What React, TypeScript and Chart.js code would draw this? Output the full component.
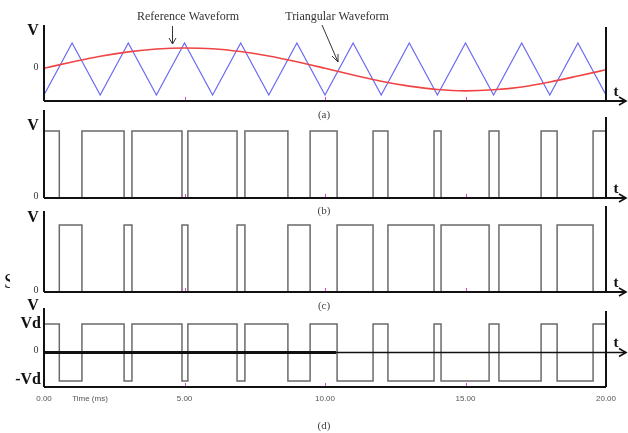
import React, { useEffect, useRef } from 'react';
import { Chart, registerables } from 'chart.js';

Chart.register(...registerables);

const W = 628;
const H = 433;
const SERIF = "'Liberation Serif', 'Times New Roman', serif";
const SANS = "'Liberation Sans', Arial, sans-serif";

// time axis (ms)
const xTickValues = [0, 5, 10, 15, 20];
const xTickLabels = ['0.00', '5.00', '10.00', '15.00', '20.00'];

// (a) triangular carrier: vertices (ms, per-unit)
const carrierTimes = [0, 1, 2, 3, 4, 5, 6, 7, 8, 9, 10, 11, 12, 13, 14, 15, 16, 17, 18, 19, 20];
const carrierValues = [-1, 1, -1, 1, -1, 1, -1, 1, -1, 1, -1, 1, -1, 1, -1, 1, -1, 1, -1, 1, -1];

// (a) reference sine, read every 1 ms
const referenceTimes = [0, 1, 2, 3, 4, 5, 6, 7, 8, 9, 10, 11, 12, 13, 14, 15, 16, 17, 18, 19, 20];
const referenceValues = [0.03, 0.27, 0.49, 0.66, 0.77, 0.81, 0.78, 0.67, 0.5, 0.28, 0.03, -0.23, -0.47, -0.66, -0.79, -0.84, -0.8, -0.69, -0.5, -0.27, -0.03];

// switching instants (ms) and the level held from each instant
const switchTimes = [0, 0.545, 1.35, 2.85, 3.13, 4.91, 5.12, 6.87, 7.15, 8.68, 9.47, 10.43, 11.71, 12.24, 13.88, 14.13, 15.84, 16.19, 17.69, 18.26, 19.54];
const legALevels = [1, 0, 1, 0, 1, 0, 1, 0, 1, 0, 1, 0, 1, 0, 1, 0, 1, 0, 1, 0, 1];
const legBLevels = [0, 1, 0, 1, 0, 1, 0, 1, 0, 1, 0, 1, 0, 1, 0, 1, 0, 1, 0, 1, 0];
const outputLevels = [1, -1, 1, -1, 1, -1, 1, -1, 1, -1, 1, -1, 1, -1, 1, -1, 1, -1, 1, -1, 1];
const endTime = 20;

const zip = (xs: number[], ys: number[]) => xs.map((x, i) => ({ x, y: ys[i] }));
const steps = (levels: number[]) =>
  zip(switchTimes, levels).concat([{ x: endTime, y: levels[levels.length - 1] }]);

type PanelSpec = {
  name: string;
  padTop: number;
  padBottom: number;
  yMin: number;
  yMax: number;
  rightOffset: number;
  vLabelY: number;
  panelLabel: string;
  panelLabelY: number;
  datasets: any[];
  bipolar?: boolean;
  showX?: boolean;
  extra?: (ctx: CanvasRenderingContext2D, chart: any) => void;
};

function arrowHead(ctx: CanvasRenderingContext2D, x: number, y: number) {
  ctx.beginPath();
  ctx.moveTo(x - 7, y - 4);
  ctx.lineTo(x, y);
  ctx.lineTo(x - 7, y + 4);
  ctx.stroke();
}

function seg(ctx: CanvasRenderingContext2D, x1: number, y1: number, x2: number, y2: number) {
  ctx.beginPath();
  ctx.moveTo(x1, y1);
  ctx.lineTo(x2, y2);
  ctx.stroke();
}

function makePlugin(spec: PanelSpec) {
  return {
    id: 'frame_' + spec.name,
    afterDatasetsDraw(chart: any) {
      const { ctx, chartArea: a, scales } = chart;
      const xs = scales.x;
      const ys = scales.y;
      ctx.save();
      ctx.strokeStyle = '#111';
      ctx.fillStyle = '#111';
      ctx.lineWidth = 2;
      // left axis and right edge
      seg(ctx, a.left, a.top, a.left, a.bottom);
      seg(ctx, a.right, a.top + spec.rightOffset, a.right, a.bottom);
      const tipX = 626;
      let baseY = a.bottom;
      if (spec.bipolar) {
        seg(ctx, a.left, a.bottom, a.right, a.bottom);
        baseY = ys.getPixelForValue(0);
        ctx.lineWidth = 3;
        seg(ctx, a.left, baseY, xs.getPixelForValue(10.4), baseY);
        ctx.lineWidth = 1.6;
        seg(ctx, xs.getPixelForValue(10.4), baseY, tipX, baseY);
        arrowHead(ctx, tipX, baseY);
      } else {
        seg(ctx, a.left, baseY, tipX, baseY);
        ctx.lineWidth = 1.6;
        arrowHead(ctx, tipX, baseY);
      }
      // small magenta ticks
      ctx.strokeStyle = '#e040e0';
      ctx.lineWidth = 1;
      [5, 10, 15].forEach((v) => {
        const px = Math.round(xs.getPixelForValue(v)) + 0.5;
        seg(ctx, px, a.bottom - 4, px, a.bottom - 1);
      });
      // labels
      ctx.fillStyle = '#111';
      ctx.textBaseline = 'middle';
      ctx.textAlign = 'center';
      ctx.font = `bold 16px ${SERIF}`;
      ctx.fillText('V', 33, spec.vLabelY);
      ctx.font = `bold 15px ${SERIF}`;
      ctx.fillText('t', 616, baseY - 9);
      ctx.font = `10px ${SERIF}`;
      ctx.fillStyle = '#333';
      ctx.fillText('0', 36, ys.getPixelForValue(0) - 2);
      if (spec.bipolar) {
        ctx.fillStyle = '#111';
        ctx.font = `bold 16px ${SERIF}`;
        ctx.textAlign = 'right';
        ctx.fillText('Vd', 41, ys.getPixelForValue(1));
        ctx.fillText('-Vd', 41, ys.getPixelForValue(-1) - 1);
      }
      ctx.textAlign = 'center';
      ctx.fillStyle = '#444';
      ctx.font = `11px ${SERIF}`;
      ctx.fillText(spec.panelLabel, 324, spec.panelLabelY);
      if (spec.extra) spec.extra(ctx, chart);
      ctx.restore();
    },
  };
}

function buildConfig(spec: PanelSpec): any {
  const xScale: any = spec.showX
    ? {
        type: 'linear',
        min: 0,
        max: 20,
        display: true,
        afterBuildTicks: (s: any) => {
          s.ticks = xTickValues.map((v) => ({ value: v }));
        },
        afterFit: (s: any) => {
          s.height = 14;
        },
        grid: { display: false, drawTicks: false },
        border: { display: false },
        ticks: {
          autoSkip: false,
          maxRotation: 0,
          padding: 7,
          color: '#555',
          font: { size: 8, family: SANS },
          callback: (v: number) => {
            const i = xTickValues.indexOf(v);
            return i >= 0 ? xTickLabels[i] : '';
          },
        },
      }
    : { type: 'linear', min: 0, max: 20, display: false };
  return {
    type: 'line',
    data: { datasets: spec.datasets },
    options: {
      responsive: false,
      animation: false,
      devicePixelRatio: 1,
      events: [],
      layout: { padding: { left: 44, right: 22, top: spec.padTop, bottom: spec.padBottom } },
      plugins: { legend: { display: false }, tooltip: { enabled: false } },
      elements: { point: { radius: 0 } },
      scales: {
        x: xScale,
        y: { type: 'linear', min: spec.yMin, max: spec.yMax, display: false },
      },
    },
    plugins: [makePlugin(spec)],
  };
}

const pulseStyle = { borderColor: '#6a6a6a', borderWidth: 1.5, stepped: 'before', fill: false, pointRadius: 0 };

const panels: PanelSpec[] = [
  {
    name: 'a',
    padTop: 25,
    padBottom: H - 101,
    yMin: -1.231,
    yMax: 1.692,
    rightOffset: 2,
    vLabelY: 31,
    panelLabel: '(a)',
    panelLabelY: 115,
    datasets: [
      {
        label: 'Reference Waveform',
        data: zip(referenceTimes, referenceValues),
        borderColor: '#f04444',
        borderWidth: 1.6,
        tension: 0.4,
        cubicInterpolationMode: 'monotone',
        pointRadius: 0,
      },
      {
        label: 'Triangular Waveform',
        data: zip(carrierTimes, carrierValues),
        borderColor: '#6a6af2',
        borderWidth: 1.2,
        tension: 0,
        pointRadius: 0,
      },
    ],
    extra: (ctx) => {
      ctx.fillStyle = '#333';
      ctx.strokeStyle = '#333';
      ctx.font = `12px ${SERIF}`;
      ctx.textAlign = 'center';
      ctx.fillText('Reference Waveform', 188, 17);
      ctx.fillText('Triangular Waveform', 337, 17);
      ctx.lineWidth = 1;
      seg(ctx, 172.5, 26, 172.5, 44);
      seg(ctx, 169, 38, 172.5, 44);
      seg(ctx, 176, 38, 172.5, 44);
      seg(ctx, 322, 25, 338, 62);
      seg(ctx, 332, 56, 338, 62);
      seg(ctx, 338, 54, 338, 62);
    },
  },
  {
    name: 'b',
    padTop: 110,
    padBottom: H - 198,
    yMin: 0,
    yMax: 1.313,
    rightOffset: 7,
    vLabelY: 126,
    panelLabel: '(b)',
    panelLabelY: 211,
    datasets: [{ label: 'Leg A', data: steps(legALevels), ...pulseStyle }],
  },
  {
    name: 'c',
    padTop: 211,
    padBottom: H - 292,
    yMin: 0,
    yMax: 1.209,
    rightOffset: -5,
    vLabelY: 218,
    panelLabel: '(c)',
    panelLabelY: 306,
    datasets: [{ label: 'Leg B', data: steps(legBLevels), ...pulseStyle }],
    extra: (ctx) => {
      ctx.save();
      ctx.beginPath();
      ctx.rect(0, 268, 10, 30);
      ctx.clip();
      ctx.fillStyle = '#111';
      ctx.font = `20px ${SERIF}`;
      ctx.textAlign = 'left';
      ctx.fillText('S', 4, 283);
      ctx.restore();
    },
  },
  {
    name: 'd',
    padTop: 308,
    padBottom: H - 387 - 14,
    yMin: -1.21,
    yMax: 1.56,
    rightOffset: 3,
    vLabelY: 306,
    panelLabel: '(d)',
    panelLabelY: 426,
    bipolar: true,
    showX: true,
    datasets: [{ label: 'Output', data: steps(outputLevels), ...pulseStyle }],
    extra: (ctx) => {
      ctx.fillStyle = '#555';
      ctx.font = `8px ${SANS}`;
      ctx.textAlign = 'center';
      ctx.fillText('Time (ms)', 90, 399);
    },
  },
];

function Panel({ spec }: { spec: PanelSpec }) {
  const ref = useRef<HTMLCanvasElement>(null);
  useEffect(() => {
    const chart = new Chart(ref.current as HTMLCanvasElement, buildConfig(spec));
    return () => chart.destroy();
  }, [spec]);
  return (
    <canvas
      ref={ref}
      width={W}
      height={H}
      style={{ position: 'absolute', left: 0, top: 0, width: W, height: H }}
    />
  );
}

export default function App() {
  return (
    <div style={{ position: 'absolute', left: 0, top: 0, width: W, height: H, background: '#fff' }}>
      {panels.map((p) => (
        <Panel key={p.name} spec={p} />
      ))}
    </div>
  );
}
